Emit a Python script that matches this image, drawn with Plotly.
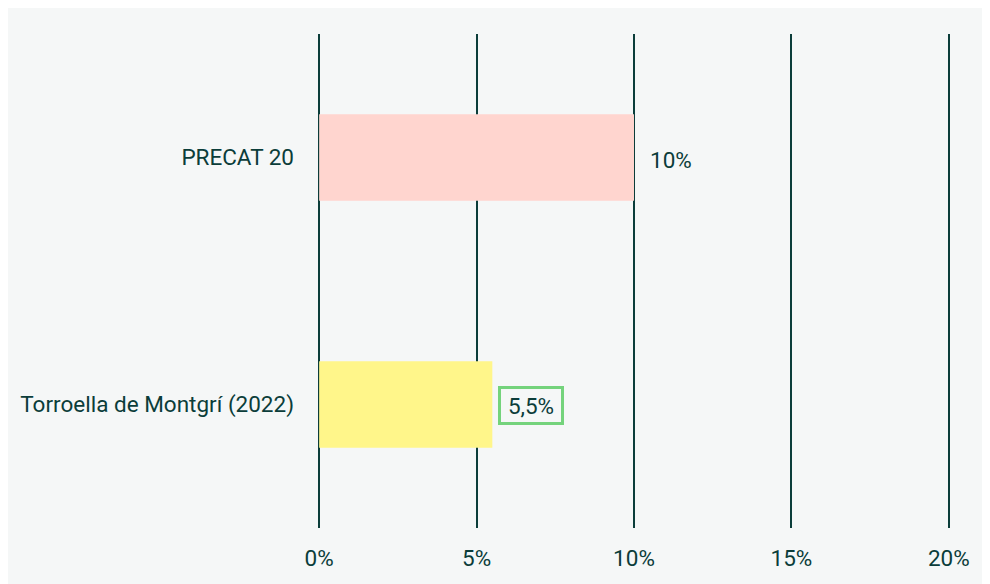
import plotly.graph_objects as go

categories = ["PRECAT 20", "Torroella de Montgrí (2022)"]
values = [10, 5.5]
bar_colors = ["#ffd5cf", "#fff68a"]
value_labels = ["10%", "5,5%"]
tick_vals = [0, 5, 10, 15, 20]
tick_text = ["0%", "5%", "10%", "15%", "20%"]

TXT = "#0b3d3a"
FONT = "Roboto"
FS = 22.5

fig = go.Figure()
fig.add_trace(go.Bar(
    y=categories, x=values, orientation="h",
    marker=dict(color=bar_colors, line=dict(width=0)),
    width=0.35, hoverinfo="skip",
))

for i, (c, v, lab) in enumerate(zip(categories, values, value_labels)):
    if i == 1:
        fig.add_annotation(
            x=v, y=c, xref="x", yref="y", text=lab, showarrow=False,
            xanchor="left", xshift=6, yshift=-1, width=56, height=29,
            font=dict(family=FONT, size=FS, color=TXT),
            bordercolor="#74d37c", borderwidth=3, borderpad=2,
        )
    else:
        fig.add_annotation(
            x=v, y=c, xref="x", yref="y", text=lab, showarrow=False,
            xanchor="left", xshift=14, yshift=-2,
            font=dict(family=FONT, size=FS, color=TXT),
        )

fig.update_layout(
    width=982, height=576,
    margin=dict(l=300, r=38, t=26, b=56),
    paper_bgcolor="#f5f7f7", plot_bgcolor="#f5f7f7",
    showlegend=False,
    font=dict(family=FONT, size=FS, color=TXT),
    xaxis=dict(range=[-0.1, 20.1], tickvals=tick_vals, ticktext=tick_text,
               showgrid=True, gridcolor=TXT, gridwidth=2, zeroline=False,
               showline=False, ticks="", ticklabelstandoff=14,
               tickfont=dict(family=FONT, size=FS, color=TXT)),
    yaxis=dict(autorange="reversed", range=[-0.5, 1.5], showgrid=False,
               zeroline=False, showline=False, ticks="",
               ticklabelstandoff=21,
               tickfont=dict(family=FONT, size=FS, color=TXT)),
)
fig.write_html("out.html")
